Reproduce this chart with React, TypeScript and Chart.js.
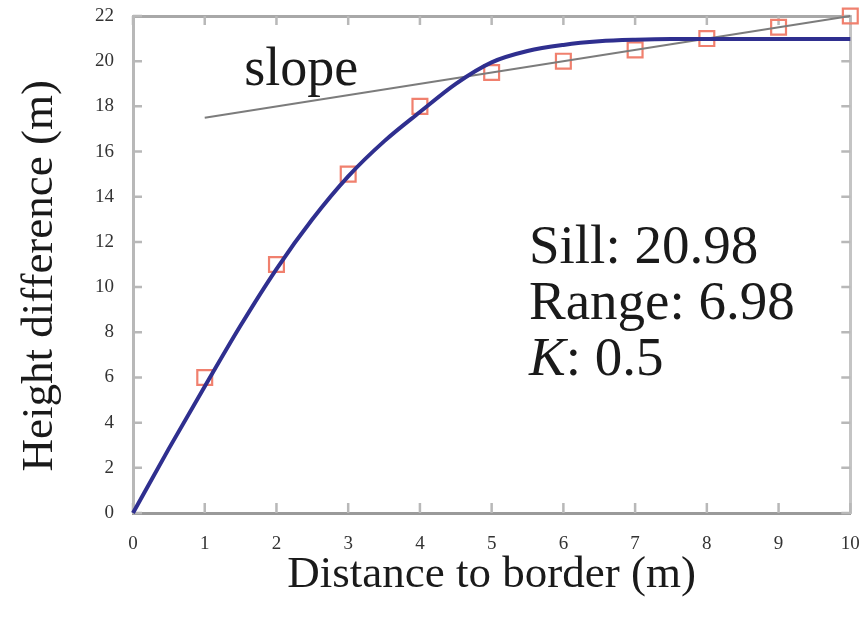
import React, { useEffect, useRef } from "react";
import { Chart, registerables } from "chart.js";

Chart.register(...registerables);

// Fitted model curve
const curveX = [0, 0.5, 1, 1.5, 2, 2.5, 3, 3.5, 4, 4.5, 5, 5.5, 6, 6.5, 7, 7.5, 8, 9, 10];
const curveY = [0, 2.85, 5.6, 8.3, 10.8, 13.0, 14.9, 16.45, 17.75, 19.0, 19.95, 20.45, 20.72, 20.88, 20.95, 20.98, 20.98, 20.98, 20.98];

// Observed samples (squares)
const sampleX = [1, 2, 3, 4, 5, 6, 7, 8, 9, 10];
const sampleY = [6, 11, 15, 18, 19.5, 20, 20.5, 21, 21.5, 22];

// Slope line
const slopeX = [1, 10];
const slopeY = [17.5, 22];

// Axes
const xMin = 0;
const xMax = 10;
const xStep = 1;
const yMin = 0;
const yMax = 22;
const yStep = 2;
const xTitle = "Distance to border (m)";
const yTitle = "Height difference (m)";

// Annotation texts (positions in data units)
const slopeText = "slope";
const slopeTextPos = [1.55, 18.95];
const infoLabels = ["Sill: ", "Range: ", "K"];
const infoValues = ["20.98", "6.98", ": 0.5"];
const infoX = 5.52;
const infoY = [11.07, 8.59, 6.11];

const SERIF = "'Liberation Serif', 'Times New Roman', serif";
const TEXT = "#1a1a1a";

const zeroPad = (s: any) => {
  s.paddingLeft = 0;
  s.paddingRight = 0;
  s.paddingTop = 0;
  s.paddingBottom = 0;
};

const tickPlugin = {
  id: "inwardTicks",
  beforeDatasetsDraw(chart: any) {
    const { ctx, chartArea } = chart;
    const xs = chart.scales.x;
    const ys = chart.scales.y;
    ctx.save();
    ctx.strokeStyle = "#b8b8b8";
    ctx.lineWidth = 2.5;
    ctx.beginPath();
    for (const t of xs.ticks) {
      const px = xs.getPixelForValue(t.value);
      ctx.moveTo(px, chartArea.bottom);
      ctx.lineTo(px, chartArea.bottom - 10);
      ctx.moveTo(px, chartArea.top);
      ctx.lineTo(px, chartArea.top + 9);
    }
    for (const t of ys.ticks) {
      const py = ys.getPixelForValue(t.value);
      ctx.moveTo(chartArea.left, py);
      ctx.lineTo(chartArea.left + 9, py);
      ctx.moveTo(chartArea.right, py);
      ctx.lineTo(chartArea.right - 9, py);
    }
    ctx.stroke();
    ctx.restore();
  },
};

const textPlugin = {
  id: "annotTexts",
  afterDatasetsDraw(chart: any) {
    const { ctx } = chart;
    const xs = chart.scales.x;
    const ys = chart.scales.y;
    ctx.save();
    ctx.fillStyle = TEXT;
    ctx.textBaseline = "alphabetic";
    ctx.textAlign = "left";
    ctx.font = `54px ${SERIF}`;
    ctx.fillText(slopeText, xs.getPixelForValue(slopeTextPos[0]), ys.getPixelForValue(slopeTextPos[1]));
    const left = xs.getPixelForValue(infoX);
    infoLabels.forEach((lab, i) => {
      const py = ys.getPixelForValue(infoY[i]);
      ctx.font = i === 2 ? `italic 55px ${SERIF}` : `55px ${SERIF}`;
      ctx.fillText(lab, left, py);
      const w = ctx.measureText(lab).width;
      ctx.font = `55px ${SERIF}`;
      ctx.fillText(infoValues[i], left + w, py);
    });
    ctx.restore();
  },
};

export default function App() {
  const ref = useRef<HTMLCanvasElement | null>(null);
  useEffect(() => {
    if (!ref.current) return;
    const tickFont = { family: SERIF, size: 19 };
    const chart = new Chart(ref.current, {
      type: "scatter",
      data: {
        datasets: [
          {
            label: "model",
            data: curveX.map((x, i) => ({ x, y: curveY[i] })),
            showLine: true,
            borderColor: "#2f2f8f",
            borderWidth: 4,
            pointRadius: 0,
            cubicInterpolationMode: "monotone",
            clip: false,
          } as any,
          {
            label: "slope",
            data: slopeX.map((x, i) => ({ x, y: slopeY[i] })),
            showLine: true,
            borderColor: "#7c7c7c",
            borderWidth: 2,
            pointRadius: 0,
            clip: false,
          } as any,
          {
            label: "samples",
            data: sampleX.map((x, i) => ({ x, y: sampleY[i] })),
            showLine: false,
            pointStyle: "rect",
            pointRadius: 10.5,
            borderColor: "rgb(240,128,110)",
            backgroundColor: "rgba(0,0,0,0)",
            borderWidth: 2.2,
            clip: false,
          } as any,
        ],
      },
      options: {
        responsive: false,
        animation: false,
        devicePixelRatio: 1,
        layout: { padding: 0 },
        plugins: { legend: { display: false }, tooltip: { enabled: false } },
        scales: {
          x: {
            type: "linear",
            position: "bottom",
            min: xMin,
            max: xMax,
            ticks: { stepSize: xStep, font: tickFont, color: "#333", padding: 20, maxRotation: 0 },
            grid: { drawOnChartArea: false, drawTicks: false },
            border: { color: "#9a9a9a", width: 3 },
            title: {
              display: true,
              text: xTitle,
              font: { family: SERIF, size: 45 },
              color: TEXT,
              padding: { top: 0, bottom: 18 },
            },
            afterFit: (s: any) => {
              s.height = 107;
              zeroPad(s);
            },
          },
          xTop: {
            type: "linear",
            position: "top",
            min: xMin,
            max: xMax,
            ticks: { display: false, stepSize: xStep },
            grid: { drawOnChartArea: false, drawTicks: false },
            border: { color: "#a8a8a8", width: 3 },
            afterFit: (s: any) => {
              s.height = 16;
              zeroPad(s);
            },
          },
          y: {
            type: "linear",
            position: "left",
            min: yMin,
            max: yMax,
            ticks: { stepSize: yStep, font: tickFont, color: "#333", padding: 19 },
            grid: { drawOnChartArea: false, drawTicks: false },
            border: { color: "#b8b8b8", width: 3 },
            title: {
              display: true,
              text: yTitle + "\u00A0\u00A0",
              font: { family: SERIF, size: 45 },
              color: TEXT,
              padding: { top: 13, bottom: 0 },
            },
            afterFit: (s: any) => {
              s.width = 133;
              zeroPad(s);
            },
          },
          yRight: {
            type: "linear",
            position: "right",
            min: yMin,
            max: yMax,
            ticks: { display: false, stepSize: yStep },
            grid: { drawOnChartArea: false, drawTicks: false },
            border: { color: "#c4c4c4", width: 3 },
            afterFit: (s: any) => {
              s.width = 10;
              zeroPad(s);
            },
          },
        },
      } as any,
      plugins: [tickPlugin, textPlugin],
    });
    return () => chart.destroy();
  }, []);
  return (
    <div style={{ position: "absolute", left: 0, top: 0, width: 863, height: 620, background: "#fff" }}>
      <canvas ref={ref} width={863} height={620} style={{ display: "block", width: 863, height: 620 }} />
    </div>
  );
}
